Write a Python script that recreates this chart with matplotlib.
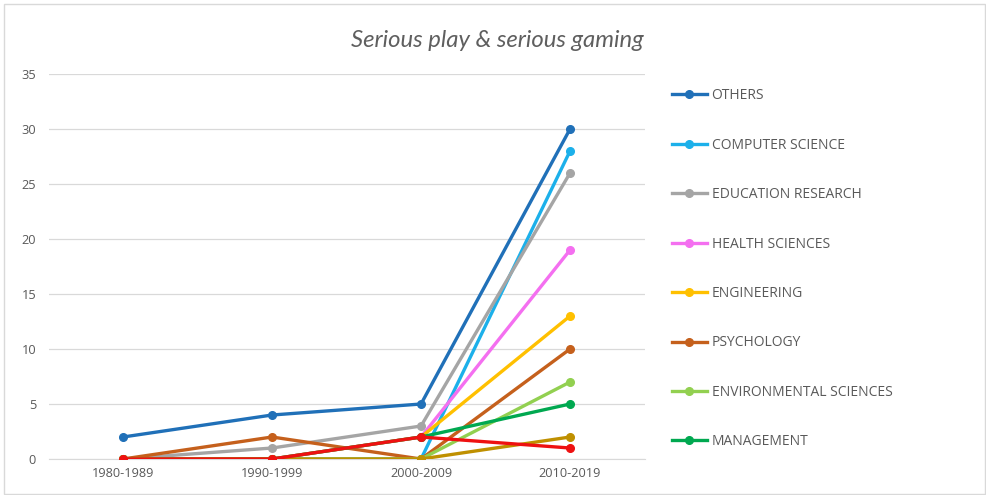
import matplotlib.pyplot as plt
from matplotlib.lines import Line2D
from matplotlib.patches import Rectangle

decades = ["1980-1989", "1990-1999", "2000-2009", "2010-2019"]

others = [2, 4, 5, 30]
computer_science = [0, 0, 0, 28]
education_research = [0, 1, 3, 26]
health_sciences = [0, 0, 2, 19]
engineering = [0, 0, 2, 13]
psychology = [0, 2, 0, 10]
environmental_sciences = [0, 0, 0, 7]
management = [0, 0, 2, 5]
unlabeled_olive = [0, 0, 0, 2]
unlabeled_red = [0, 0, 2, 1]

legend_names = ["OTHERS", "COMPUTER SCIENCE", "EDUCATION RESEARCH", "HEALTH SCIENCES",
                "ENGINEERING", "PSYCHOLOGY", "ENVIRONMENTAL SCIENCES", "MANAGEMENT"]
colors = ["#2070b8", "#1cb0ea", "#a5a5a5", "#f46ff0", "#ffc000", "#c5601c",
          "#92d050", "#00a850", "#bf9000", "#ee1111"]
series = [others, computer_science, education_research, health_sciences, engineering,
          psychology, environmental_sciences, management, unlabeled_olive, unlabeled_red]

plt.rcParams["font.family"] = ["Open Sans", "DejaVu Sans"]

fig = plt.figure(figsize=(9.86, 4.95), dpi=100)
ax = fig.add_axes([0.0492, 0.0727, 0.6045, 0.7778])

x = range(len(decades))
for vals, col in zip(series, colors):
    ax.plot(x, vals, color=col, lw=2.4, marker="o", markersize=5.5,
            solid_capstyle="round", zorder=3)

ax.set_xlim(-0.5, len(decades) - 0.5)
ax.set_ylim(0, 35)
ax.set_yticks(range(0, 36, 5))
ax.set_xticks(list(x))
ax.set_xticklabels(decades)
ax.grid(axis="y", color="#d9d9d9", lw=0.9)
ax.set_axisbelow(True)
for side in ["top", "right", "left"]:
    ax.spines[side].set_visible(False)
ax.spines["bottom"].set_color("#d9d9d9")
ax.tick_params(length=0, labelsize=9.2, colors="#595959")
ax.tick_params(axis="y", pad=9)
ax.tick_params(axis="x", pad=6)

fig.text(0.504, 0.918, "Serious play & serious gaming", ha="center", va="center",
         fontsize=17.2, style="italic", color="#5f5f5f", family=["Lato", "DejaVu Sans"])

handles = [Line2D([], [], color=c, lw=2.4, marker="o", markersize=5.5)
           for c in colors[:8]]
fig.legend(handles, legend_names, loc="upper left", bbox_to_anchor=(0.6764, 0.833),
           frameon=False, fontsize=10, labelcolor="#595959", handlelength=2.45,
           handletextpad=0.36, labelspacing=2.48, borderaxespad=0)

fig.patches.append(Rectangle((0.004, 0.002), 0.995, 0.99, transform=fig.transFigure,
                             fill=False, edgecolor="#d9d9d9", lw=1))

fig.savefig("out.png", dpi=100, facecolor="white")
